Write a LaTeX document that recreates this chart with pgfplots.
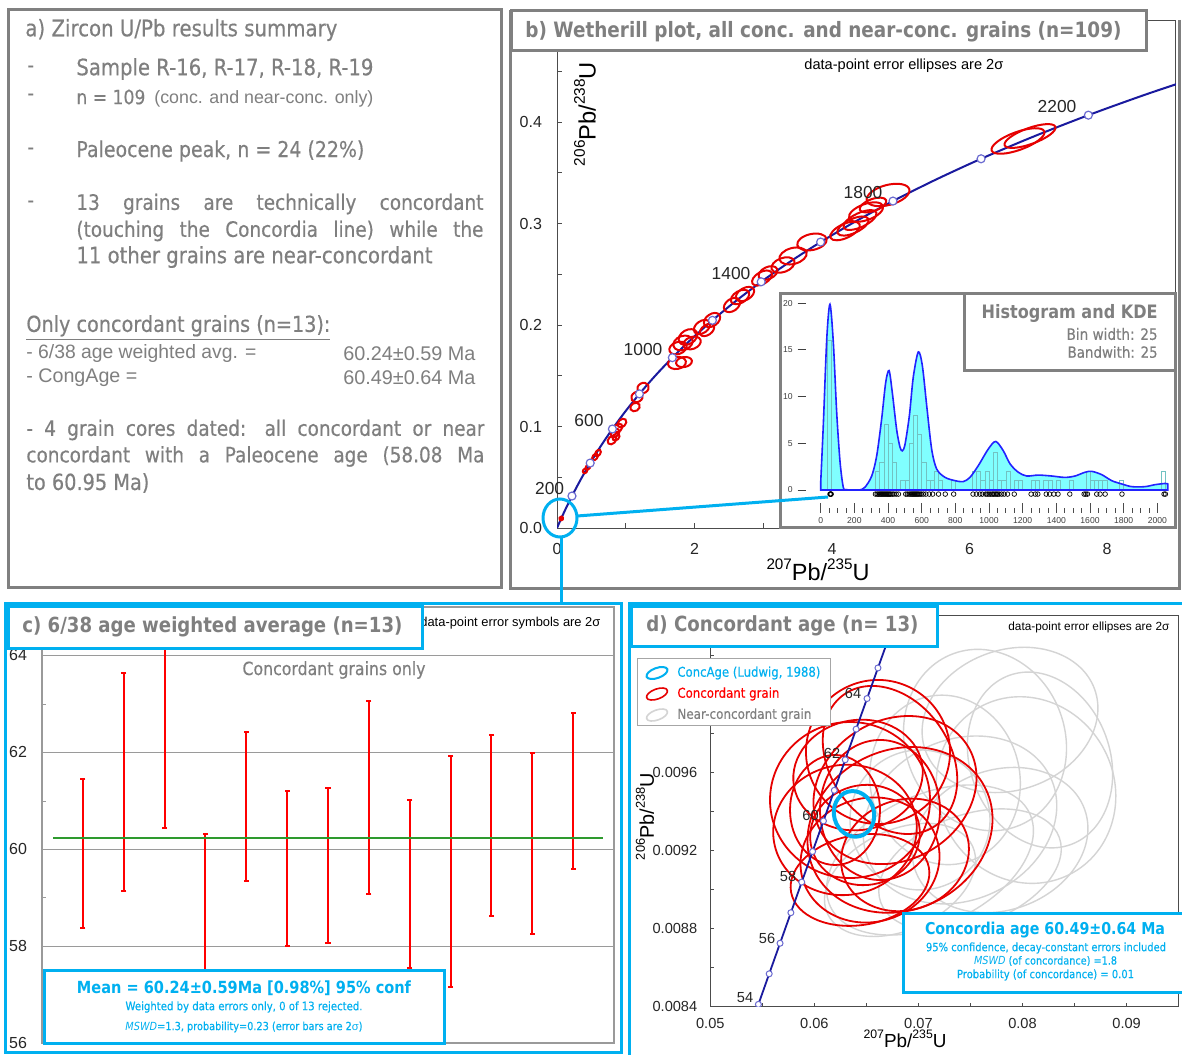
\documentclass[border=0pt]{standalone}
\usepackage{pgfplots}
\pgfplotsset{compat=1.18}
\usepackage{pgfplotstable}
\usepackage{graphicx}
\usepackage{fontspec}
\setmainfont{DejaVu Sans}[FakeStretch=0.87, UprightFeatures={FakeBold=0.35}]
\newfontfamily\arialf{Liberation Sans}

\definecolor{gtxt}{HTML}{7F7F7F}
\definecolor{gbox}{HTML}{808080}
\definecolor{cyanb}{HTML}{00B0F0}
\definecolor{concb}{HTML}{1A1A9E}
\definecolor{mk}{HTML}{6A6AD0}
\definecolor{kdef}{HTML}{80FFFF}
\definecolor{kdel}{HTML}{2222FF}
\definecolor{histc}{HTML}{72C2C2}
\definecolor{meanc}{HTML}{2E9A2E}
\definecolor{ellg}{HTML}{D4D4D4}
\definecolor{ellr}{HTML}{E60000}
\definecolor{gridc}{HTML}{9A9A9A}

\newcommand{\sups}[1]{\raisebox{0.45em}{\fontsize{6.5}{6.5}\selectfont #1}}
\newcommand{\TL}[4]{\node[anchor=west,inner sep=0pt,text=#3] at (#1) {\resizebox{#2pt}{!}{#4}};}
\newcommand{\TC}[4]{\node[anchor=center,inner sep=0pt,text=#3] at (#1) {\resizebox{#2pt}{!}{#4}};}
\newcommand{\TR}[4]{\node[anchor=east,inner sep=0pt,text=#3] at (#1) {\resizebox{#2pt}{!}{#4}};}
\newcommand{\dsh}{\hspace{2.5pt}\rule[0.6ex]{4pt}{0.35pt}}

\pgfdeclareplotmark{ell}{\pgfpathellipse{\pgfpointorigin}{\pgfpoint{\ellrx pt}{0pt}}{\pgfpoint{0pt}{\ellry pt}}\pgfusepathqstroke}
\pgfplotsset{
  ellmarks/.style={
    scatter, only marks, mark=ell,
    visualization depends on={\thisrow{rx}\as\ellrx},
    visualization depends on={\thisrow{ry}\as\ellry},
    visualization depends on={\thisrow{rot}\as\ellrot},
    scatter/@pre marker code/.code={\pgfscope\pgftransformrotate{\ellrot}},
    scatter/@post marker code/.code={\endpgfscope},
  }
}

% Wetherill ellipses, panel b (x y, radii in pt, rotation in degrees)
\pgfplotstableread{
x y rx ry rot
6.705 0.3813 14 4.5 20
6.880 0.3862 13.5 4 20
4.815 0.3281 11 5 15
4.495 0.3113 9 4 20
4.407 0.3034 9 3.5 25
4.305 0.2975 8.5 3.5 25
4.189 0.2926 8 3.5 25
4.596 0.3182 7 3 20
3.709 0.2818 7.5 4 12
3.433 0.2680 7 4 15
3.287 0.2591 6 3.5 20
3.069 0.2512 5 3 25
2.982 0.2463 5.5 3 30
2.735 0.2305 5 3 30
2.662 0.2276 5 3 30
2.545 0.2197 4.5 3 35
2.255 0.2049 4.5 3 35
2.109 0.1980 4.5 3 35
2.182 0.1951 4 2.5 35
1.905 0.1882 5 3.5 30
1.833 0.1823 5 3.5 20
1.964 0.1823 4.5 3 20
1.760 0.1773 4.5 3 20
1.745 0.1626 4.5 3 10
1.847 0.1635 4 2.5 10
1.251 0.1379 3 2.5 30
1.164 0.1291 3 2.5 30
1.135 0.1192 2.5 2 30
0.945 0.1034 2.5 1.8 45
0.887 0.0985 2.5 1.8 45
0.844 0.0936 2.5 1.8 45
0.800 0.0867 2.5 1.8 45
0.858 0.0897 2 1.5 45
0.596 0.0739 1.8 1.2 55
0.553 0.0700 1.8 1.2 55
0.451 0.0601 1.5 1 55
0.407 0.0562 1.2 1 55
0.062 0.0094 1 0.8 60
0.061 0.0093 0.8 0.8 60
}\ellB

% Panel d: concordant (red) ellipses
\pgfplotstableread{
x y rx ry rot
0.066114 0.009704 36 36 20
0.063424 0.009458 40 39 0
0.062943 0.009305 36 32.5 10
0.065346 0.009151 35 31 15
0.068228 0.009305 47.5 40 25
0.066306 0.009407 30 35 0
0.064192 0.009586 32.5 27.5 10
0.067748 0.009509 42.5 35 30
0.068709 0.009177 32.5 27.5 20
0.061982 0.009407 22.5 27.5 0
0.064865 0.009279 27.5 25 10
0.067267 0.009663 30 40 35
0.064384 0.009049 35 22.5 10
}\ellDr

% Panel d: near-concordant (grey) ellipses
\pgfplotstableread{
x y rx ry rot
0.076396 0.009765 40 46 20
0.080335 0.009509 44 47.5 30
0.073994 0.009356 50 40 25
0.071111 0.009151 55 32.5 25
0.077837 0.009253 45 35 20
0.072552 0.009561 37.5 42.5 10
0.070150 0.009356 35 35 0
0.074955 0.009100 47.5 27.5 20
0.081681 0.009663 35 45 20
0.068228 0.009049 40 25 25
0.078798 0.009868 45 35 20
}\ellDg

\pgfplotstableread{
x y rx ry rot
0.063808 0.009387 10 11.5 15
}\ellDc

\begin{document}
\begin{tikzpicture}
\useasboundingbox (0,0) rectangle (591pt,-527pt);
\fill[white] (0,0) rectangle (591pt,-527pt);

% ---------------- Panel a ----------------
\begin{scope}[x=0.5pt,y=-0.5pt]
\draw[gbox, line width=1.5pt] (8,10) rectangle (501,587);
\TL{25,30}{156}{gtxt}{a) Zircon U/Pb results summary}
\foreach \yy in {69,97,151,204} {\node[anchor=west,inner sep=0pt,text=gtxt,font=\fontsize{10.5}{12}\selectfont] at (27,\yy) {-};}
\TL{76,69}{148.5}{gtxt}{Sample R-16, R-17, R-18, R-19}
\TL{76,97}{34.5}{gtxt}{n = 109}
\TL{154,99}{109.5}{gtxt}{\arialf (conc. and near-conc. only)}
\TL{76,151}{144}{gtxt}{Paleocene peak, n = 24 (22\%)}
\node[anchor=west,inner sep=0pt,text=gtxt,font=\fontsize{10.6}{12}\selectfont] at (76,204) {\makebox[203.5pt][s]{13 grains are technically concordant}};
\node[anchor=west,inner sep=0pt,text=gtxt,font=\fontsize{10.6}{12}\selectfont] at (76,231) {\makebox[203.5pt][s]{(touching the Concordia line) while the}};
\TL{76,257}{178}{gtxt}{11 other grains are near-concordant}
\TL{26,328}{152}{gtxt}{\underline{Only concordant grains (n=13):}}
\TL{26,354}{115}{gtxt}{\arialf - 6/38 age weighted avg. =}
\TL{343,354}{66}{gtxt}{\arialf 60.24±0.59 Ma}
\TL{26,378}{55.5}{gtxt}{\arialf - CongAge =}
\TL{343,378}{66}{gtxt}{\arialf 60.49±0.64 Ma}
\node[anchor=west,inner sep=0pt,text=gtxt,font=\fontsize{10.6}{12}\selectfont] at (26,430) {\makebox[229pt][s]{- 4 grain cores dated: all concordant or near}};
\node[anchor=west,inner sep=0pt,text=gtxt,font=\fontsize{10.6}{12}\selectfont] at (26,456.5) {\makebox[229pt][s]{concordant with a Paleocene age (58.08 Ma}};
\TL{26,483}{61.5}{gtxt}{to 60.95 Ma)}
\end{scope}

% ---------------- Panel b: Wetherill ----------------
\begin{axis}[at={(278.5pt,-264pt)}, anchor=south west, scale only axis,
  width=309.375pt, height=253.75pt,
  xmin=0, xmax=9, ymin=0, ymax=0.5,
  clip marker paths=true, scaled ticks=false,
  axis line style={draw=black!70, line width=0.5pt},
  tick pos=left, tick align=inside,
  xtick={0,2,4,6,8}, xticklabels={0,2,4,6,8}, minor xtick={1,3,5,7},
  ytick={0,0.1,0.2,0.3,0.4}, yticklabels={0.0,0.1,0.2,0.3,0.4},
  minor ytick={0.05,0.15,0.25,0.35,0.45},
  major tick length=2.5pt, minor tick length=2.5pt,
  tick style={black!70, line width=0.5pt},
  tick label style={font=\arialf\fontsize{8}{9}\selectfont, text=black!85},
  yticklabel style={xshift=-4pt}, xticklabel style={yshift=-4pt}]
\addplot[concb, line width=1pt, smooth] coordinates {
(0,0) (0.024926,0.003886) (0.050475,0.007786) (0.10350,0.015633) (0.15920,0.023542)
(0.21771,0.031511) (0.34376,0.047637) (0.48281,0.064016) (0.63628,0.080650)
(0.80564,0.097540) (0.99251,0.114700) (1.19873,0.132130) (1.42630,0.149830)
(1.67741,0.167810) (1.95452,0.186070) (2.26030,0.204600) (2.59774,0.223440)
(2.97009,0.242570) (3.38099,0.261990) (3.83441,0.281720) (4.33477,0.301760)
(4.88690,0.322110) (5.49619,0.342780) (6.16852,0.363770) (6.91046,0.385090)
(7.72918,0.406750) (8.63262,0.428740) (9.62957,0.451080)};
\addplot[ellmarks, color=ellr, mark options={line width=1pt}] table {\ellB};
\addplot[only marks, mark=*, mark size=2pt, mark options={fill=white, draw=mk, line width=0.6pt}] coordinates {
(0.21771,0.031511) (0.48281,0.064016) (0.80564,0.09754) (1.19873,0.13213)
(1.67741,0.16781) (2.2603,0.2046) (2.97009,0.24257) (3.83441,0.28172)
(4.8869,0.32211) (6.16852,0.36377) (7.72918,0.40675)};
\end{axis}

\begin{scope}[x=0.5pt,y=-0.5pt]
\draw[gbox, line width=1.5pt] (1179,20) -- (1179,588) -- (510,588) -- (510,10);
\draw[gbox, line width=1.5pt, fill=white] (780,293) rectangle (1175,527);
\end{scope}

% inset KDE
\begin{axis}[at={(410.35pt,-245pt)}, anchor=south west, scale only axis,
  width=174.2pt, height=98pt, xmin=0, xmax=2070, ymin=0, ymax=21, clip=false,
  axis x line=none, axis y line*=left, y axis line style={draw=none},
  ytick={0,5,10,15,20}, yticklabels={0\dsh,5\dsh,10\dsh,15\dsh,20\dsh},
  major tick length=0pt,
  yticklabel style={font=\arialf\fontsize{4.3}{5}\selectfont, text=black!75, xshift=-4pt}]
\addplot[fill=kdef, draw=none, smooth, tension=0.5] coordinates {
(0,0.8) (16,7.2) (36,16.2) (55,19.9) (75,15.8) (95,8.3) (115,3) (134,0.3) (150,0.05)
(180,0) (230,0) (263,0.3) (303,1.5) (333,3.7) (362,7.6) (386,11.5) (406,12.8) (425,10.5)
(451,6.5) (471,4.6) (485,4.2) (501,4.9) (527,8) (550,12.1) (580,14.8) (604,13.3) (630,9)
(659,4.4) (689,2.25) (738,1.36) (798,1.0) (847,0.9) (887,1.36) (936,2.6) (996,4.4)
(1040,5.2) (1085,4.2) (1125,2.8) (1174,1.9) (1224,1.5) (1293,1.6) (1372,1.5) (1451,1.35)
(1511,1.5) (1570,1.9) (1610,2.0) (1669,1.65) (1729,1.0) (1788,0.65) (1848,0.36)
(1927,0.36) (1986,0.57) (2045,0.7) (2062,0.65)} \closedcycle;
\addplot[ybar, bar width=25, bar shift=0pt, draw=histc, fill=none, line width=0.3pt] coordinates {
(50,16) (337.5,2) (362.5,3) (387.5,7) (412.5,5) (437.5,3) (487.5,1) (512.5,1)
(537.5,5) (562.5,8) (587.5,6) (612.5,3) (637.5,1) (662.5,1) (687.5,2) (712.5,1)
(787.5,1) (912.5,2) (937.5,2) (962.5,1) (987.5,2) (1012.5,1) (1037.5,4) (1062.5,1)
(1087.5,1) (1112.5,2) (1162.5,1) (1187.5,1) (1262.5,1) (1287.5,1) (1337.5,1)
(1362.5,1) (1412.5,1) (1487.5,1) (1587.5,2) (1612.5,1) (1637.5,1) (1662.5,1)
(1687.5,1) (1787.5,1) (2037.5,2)};
\addplot[kdel, line width=0.8pt, smooth, tension=0.5] coordinates {
(0,0.8) (16,7.2) (36,16.2) (55,19.9) (75,15.8) (95,8.3) (115,3) (134,0.3) (150,0.05)
(180,0) (230,0) (263,0.3) (303,1.5) (333,3.7) (362,7.6) (386,11.5) (406,12.8) (425,10.5)
(451,6.5) (471,4.6) (485,4.2) (501,4.9) (527,8) (550,12.1) (580,14.8) (604,13.3) (630,9)
(659,4.4) (689,2.25) (738,1.36) (798,1.0) (847,0.9) (887,1.36) (936,2.6) (996,4.4)
(1040,5.2) (1085,4.2) (1125,2.8) (1174,1.9) (1224,1.5) (1293,1.6) (1372,1.5) (1451,1.35)
(1511,1.5) (1570,1.9) (1610,2.0) (1669,1.65) (1729,1.0) (1788,0.65) (1848,0.36)
(1927,0.36) (1986,0.57) (2045,0.7) (2062,0.65)} \closedcycle;
\end{axis}

% inset age ticks and data circles
\begin{axis}[at={(410.35pt,-256.35pt)}, anchor=south west, scale only axis,
  width=174.2pt, height=11.35pt, xmin=0, xmax=2070, ymin=0, ymax=1, clip=false,
  axis y line=none, axis x line*=bottom, x axis line style={draw=none},
  xtick={0,200,...,2000}, xticklabels={0,200,400,600,800,1000,1200,1400,1600,1800,2000},
  minor x tick num=3, tick align=inside,
  major tick length=5pt, minor tick length=2.5pt,
  tick style={black!70, line width=0.4pt},
  xticklabel style={font=\arialf\fontsize{4.3}{5}\selectfont, text=black!75, yshift=1pt}]
\addplot[only marks, mark=o, mark size=1.15pt, black, mark options={line width=0.35pt}] coordinates {
(55,0.82) (58,0.82) (60,0.82) (62,0.82) (325,0.82) (335,0.82) (342,0.82) (350,0.82)
(356,0.82) (362,0.82) (368,0.82) (374,0.82) (380,0.82) (386,0.82) (392,0.82) (398,0.82)
(404,0.82) (410,0.82) (416,0.82) (425,0.82) (435,0.82) (448,0.82) (462,0.82) (505,0.82)
(515,0.82) (525,0.82) (533,0.82) (540,0.82) (546,0.82) (552,0.82) (558,0.82) (564,0.82)
(570,0.82) (576,0.82) (582,0.82) (590,0.82) (598,0.82) (610,0.82) (625,0.82) (645,0.82)
(665,0.82) (700,0.82) (740,0.82) (790,0.82) (905,0.82) (925,0.82) (945,0.82) (960,0.82)
(980,0.82) (990,0.82) (1000,0.82) (1010,0.82) (1020,0.82) (1028,0.82) (1036,0.82)
(1044,0.82) (1052,0.82) (1060,0.82) (1075,0.82) (1090,0.82) (1110,0.82) (1150,0.82)
(1250,0.82) (1275,0.82) (1290,0.82) (1340,0.82) (1360,0.82) (1385,0.82) (1410,0.82)
(1480,0.82) (1565,0.82) (1575,0.82) (1585,0.82) (1640,0.82) (1660,0.82) (1690,0.82)
(1790,0.82) (2040,0.82) (2048,0.82)};
\end{axis}

\begin{scope}[x=0.5pt,y=-0.5pt]
\draw[gbox, line width=1.5pt, fill=white] (964,293) rectangle (1175,370);
\TR{1158,313}{88}{gtxt}{\bfseries Histogram and KDE}
\TR{1158,334}{45.5}{gtxt}{Bin width: 25}
\TR{1158,352}{45}{gtxt}{Bandwith: 25}
% title b
\draw[gbox, line width=1.5pt, fill=white] (511,11) rectangle (1146,51);
\TL{525,32}{298}{gtxt}{\bfseries b) Wetherill plot, all conc. and near-conc. grains (n=109)}
\TL{804,65.5}{99.5}{black}{\arialf data-point error ellipses are 2σ}
% age labels
\begin{scope}[every node/.style={font=\arialf\fontsize{8.7}{9}\selectfont, text=black!85, inner sep=0pt}]
\node at (549.6,489) {200};
\node at (589,421) {600};
\node at (643,350) {1000};
\node at (731,274) {1400};
\node at (863,193) {1800};
\node at (1057,107) {2200};
\end{scope}
\TC{818,570}{51.5}{black}{\arialf\sups{207}Pb/\sups{235}U}
\node[rotate=90, inner sep=0pt] at (585,114) {\resizebox{52pt}{!}{\arialf\sups{206}Pb/\sups{238}U}};
% connectors
\draw[cyanb, line width=1.5pt] (560,518) ellipse [x radius=17, y radius=19];
\draw[cyanb, line width=1.5pt] (577,516) -- (828,497);
\draw[cyanb, line width=1.5pt] (561,537) -- (561,603);
\end{scope}

% ---------------- Panel c ----------------
\begin{axis}[at={(21pt,-521.5pt)}, anchor=south west, scale only axis,
  width=286pt, height=218pt, xmin=0, xmax=14, ymin=56, ymax=65,
  scaled ticks=false,
  xtick=\empty, ytick={56,58,60,62,64}, yticklabels={56,58,60,62,64},
  minor ytick={57,59,61,63}, ymajorgrids, grid style={gridc, line width=0.6pt},
  axis line style={gridc, line width=0.6pt},
  tick pos=left, tick align=inside, major tick length=0pt, minor tick length=2pt,
  tick style={gridc},
  tick label style={font=\arialf\fontsize{8}{9}\selectfont, text=black!85},
  yticklabel style={xshift=-4pt}, unbounded coords=jump]
\addplot[red, line width=1pt, mark=-, mark size=1.3pt, mark options={line width=1pt}] coordinates {
(1,58.38) (1,61.46) (1,nan)
(2,59.14) (2,63.64) (2,nan)
(3,60.43) (3,64.6) (3,nan)
(4,57.0) (4,60.31) (4,nan)
(5,59.34) (5,62.43) (5,nan)
(6,58.0) (6,61.21) (6,nan)
(7,58.07) (7,61.27) (7,nan)
(8,59.08) (8,63.07) (8,nan)
(9,57.55) (9,61.01) (9,nan)
(10,57.16) (10,61.92) (10,nan)
(11,58.62) (11,62.36) (11,nan)
(12,58.26) (12,61.98) (12,nan)
(13,59.59) (13,62.81)};
\addplot[meanc, line width=1pt] coordinates {(0.28,60.24) (13.72,60.24)};
\end{axis}

% ---------------- Panel d ----------------
\begin{axis}[at={(355.15pt,-503.35pt)}, anchor=south west, scale only axis,
  width=233.85pt, height=195.85pt,
  xmin=0.05, xmax=0.09494, ymin=0.0084, ymax=0.010405,
  clip marker paths=true, scaled ticks=false,
  axis line style={draw=black!70, line width=0.5pt},
  tick pos=left, tick align=inside,
  xtick={0.05,0.06,0.07,0.08,0.09}, xticklabels={0.05,0.06,0.07,0.08,0.09},
  minor xtick={0.055,0.065,0.075,0.085},
  ytick={0.0084,0.0088,0.0092,0.0096}, yticklabels={0.0084,0.0088,0.0092,0.0096},
  minor ytick={0.0086,0.009,0.0094,0.0098,0.01,0.0102},
  major tick length=2pt, minor tick length=2pt,
  tick style={black!70, line width=0.5pt},
  tick label style={font=\arialf\fontsize{7.3}{8}\selectfont, text=black!85},
  yticklabel style={xshift=-3pt}, xticklabel style={yshift=-2.5pt}]
\addplot[ellmarks, color=ellg, mark options={line width=0.7pt}] table {\ellDg};
\addplot[ellmarks, color=ellr, mark options={line width=0.9pt}] table {\ellDr};
\addplot[ellmarks, color=cyanb, mark options={line width=2pt}] table {\ellDc};
\addplot[concb, line width=0.9pt] coordinates {
(0.053583,0.0082555) (0.054621,0.0084119) (0.055658,0.0085684) (0.056701,0.0087249)
(0.057742,0.0088813) (0.058784,0.0090378) (0.059828,0.0091944) (0.060871,0.0093508)
(0.061917,0.0095075) (0.062963,0.0096641) (0.064011,0.0098208) (0.065059,0.0099774)
(0.066109,0.0101340) (0.067158,0.0102906) (0.068211,0.0104475) (0.069262,0.0106043)};
\addplot[only marks, mark=*, mark size=1.5pt, mark options={fill=white, draw=mk, line width=0.5pt}] coordinates {
(0.054621,0.0084119) (0.055658,0.0085684) (0.056701,0.0087249)
(0.057742,0.0088813) (0.058784,0.0090378) (0.059828,0.0091944) (0.060871,0.0093508)
(0.061917,0.0095075) (0.062963,0.0096641) (0.064011,0.0098208) (0.065059,0.0099774)
(0.066109,0.0101340)};
\end{axis}

\begin{scope}[x=0.5pt,y=-0.5pt]
% panel c texts
\TL{420,623}{90}{black}{\arialf data-point error symbols are 2σ}
\draw[cyanb, line width=1.5pt, fill=white] (8,606) rectangle (422,648);
\TL{22,627}{190}{gtxt}{\bfseries c) 6/38 age weighted average (n=13)}
\TC{334,670}{91.5}{gtxt}{Concordant grains only}
\draw[cyanb, line width=1.5pt, fill=white] (44,970) rectangle (444,1043);
\TC{244,988}{167}{cyanb}{\bfseries Mean = 60.24±0.59Ma [0.98\%] 95\% conf}
\TC{244,1007}{118.5}{cyanb}{Weighted by data errors only, 0 of 13 rejected.}
\TC{244,1027}{118.5}{cyanb}{\itshape MSWD\upshape=1.3, probability=0.23 (error bars are 2{\arialf σ})}
\draw[cyanb, line width=1.5pt] (5,603) rectangle (621,1052);
% panel d texts
\TL{1008,627}{80.5}{black}{\arialf data-point error ellipses are 2σ}
\draw[cyanb, line width=1.5pt, fill=white] (631,606) rectangle (937,646);
\TL{646,626}{136}{gtxt}{\bfseries d) Concordant age (n= 13)}
\begin{scope}[every node/.style={font=\arialf\fontsize{7.3}{8}\selectfont, text=black!85, inner sep=0pt}]
\node at (745,998) {54};
\node at (767,938) {56};
\node at (788,876) {58};
\node at (810.6,815) {60};
\node at (832,753) {62};
\node at (853,693) {64};
\end{scope}
\draw[gray!70, line width=0.5pt, fill=white] (637,658) rectangle (830,725);
\draw[cyanb, line width=1pt, rotate around={20:(657,673)}] (657,673) ellipse [x radius=11, y radius=5];
\draw[ellr, line width=0.8pt, rotate around={20:(657,694)}] (657,694) ellipse [x radius=11, y radius=5];
\draw[ellg, line width=0.8pt, rotate around={20:(657,715)}] (657,715) ellipse [x radius=11, y radius=5];
\TL{677,673}{71.5}{cyanb}{ConcAge (Ludwig, 1988)}
\TL{677,694}{51}{red}{Concordant grain}
\TL{677,715}{67}{gtxt}{Near-concordant grain}
\TC{905,1039}{41.5}{black}{\arialf\sups{207}Pb/\sups{235}U}
\node[rotate=90, inner sep=0pt] at (645,816.5) {\resizebox{43.5pt}{!}{\arialf\sups{206}Pb/\sups{238}U}};
\draw[cyanb, line width=1.5pt, fill=white] (903,913) rectangle (1195,992);
\TC{1045,930}{120}{cyanb}{\bfseries Concordia age 60.49±0.64 Ma}
\TC{1046,948}{120}{cyanb}{95\% confidence, decay-constant errors included}
\TC{1045.5,961}{71.5}{cyanb}{\itshape MSWD \upshape(of concordance) =1.8}
\TC{1045.5,975}{88.5}{cyanb}{Probability (of concordance) = 0.01}
\draw[cyanb, line width=1.5pt] (629,1065) -- (629,603) -- (1195,603);
\end{scope}
\end{tikzpicture}
\end{document}
